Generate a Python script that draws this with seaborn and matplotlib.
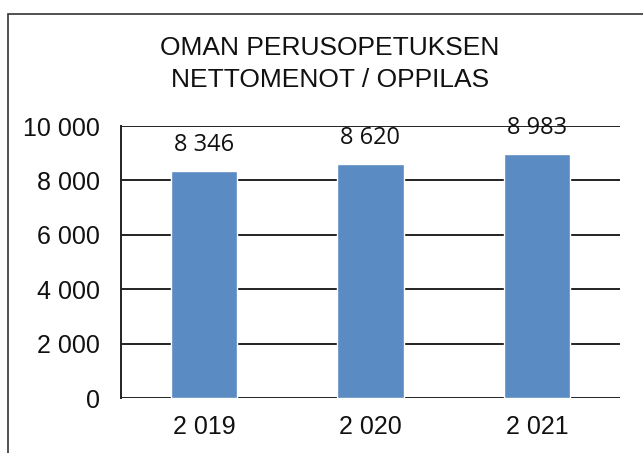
import matplotlib
matplotlib.use("Agg")
import matplotlib.pyplot as plt
import seaborn as sns
import pandas as pd
from matplotlib.patches import Rectangle

years = ["2 019", "2 020", "2 021"]
values = [8346, 8620, 8983]
value_labels = ["8 346", "8 620", "8 983"]
yticks = [0, 2000, 4000, 6000, 8000, 10000]
ytick_labels = ["0", "2 000", "4 000", "6 000", "8 000", "10 000"]
title = "OMAN PERUSOPETUKSEN\nNETTOMENOT / OPPILAS"

sns.set_theme(style="white")
plt.rcParams['font.family'] = ['Liberation Sans', 'DejaVu Sans']

df = pd.DataFrame({"year": years, "value": values})

fig = plt.figure(figsize=(6.43, 4.53), dpi=100)
ax = fig.add_axes([121/643, 1 - 398/453, (620-121)/643, (398-126)/453])

sns.barplot(data=df, x="year", y="value", color="#5a8bc3", width=0.4,
            saturation=1, ax=ax, zorder=3)

ax.set_ylim(0, 10000)
ax.set_xlim(-0.5, 2.5)
ax.set_yticks(yticks)
ax.set_yticklabels(ytick_labels, fontsize=18, color="#111111")
ax.tick_params(axis='x', labelsize=18, colors="#111111", pad=12, length=0)
ax.tick_params(axis='y', pad=15, length=0)
ax.set_xlabel("")
ax.set_ylabel("")
for y in yticks:
    ax.axhline(y, color="#222222", lw=1.4, zorder=1)
for s in ["top", "right", "bottom"]:
    ax.spines[s].set_visible(False)
ax.spines["left"].set_color("#222222")
ax.spines["left"].set_linewidth(1.4)

for i, (v, lab) in enumerate(zip(values, value_labels)):
    ax.annotate(lab, (i, v), xytext=(0, 10), textcoords="offset points",
                ha="center", va="bottom", fontsize=17, color="#111111",
                family=["Open Sans", "DejaVu Sans"], zorder=4)

fig.text(330/643, 1 - 64/453, title, ha="center", va="center",
         fontsize=19, color="#111111", linespacing=1.42)

fig.add_artist(Rectangle((8/643, -0.1), 1.2, 1 - 14/453 + 0.1,
                         transform=fig.transFigure, fill=False,
                         edgecolor="#333333", lw=1.2))

fig.savefig("out.png", dpi=100)
